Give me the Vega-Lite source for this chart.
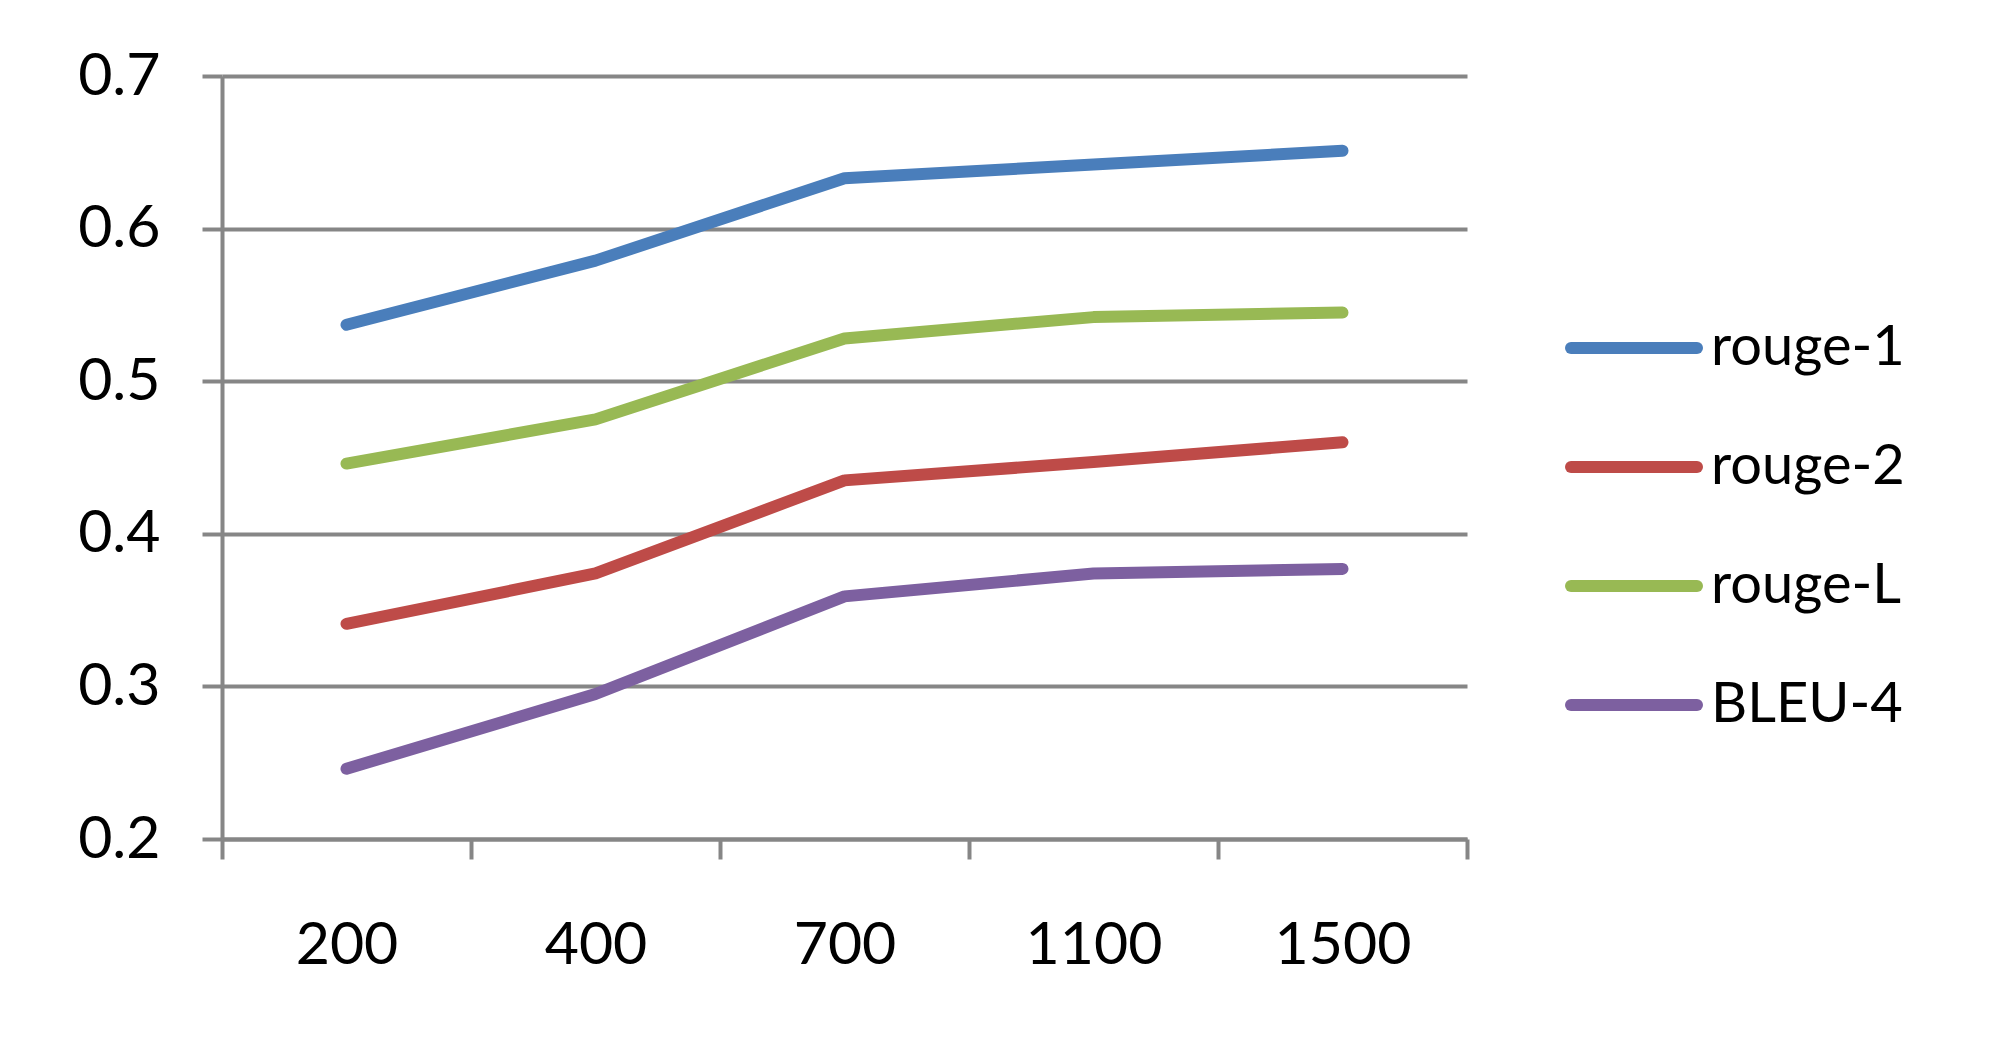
{
  "$schema": "https://vega.github.io/schema/vega-lite/v6.json",
  "width": 1245,
  "height": 763,
  "autosize": "none",
  "padding": {"left": 222, "top": 76, "right": 532, "bottom": 223},
  "background": "white",
  "data": {"values": [
    {"n": 200, "metric": "rouge-1", "score": 0.537},
    {"n": 400, "metric": "rouge-1", "score": 0.579},
    {"n": 700, "metric": "rouge-1", "score": 0.633},
    {"n": 1100, "metric": "rouge-1", "score": 0.642},
    {"n": 1500, "metric": "rouge-1", "score": 0.651},
    {"n": 200, "metric": "rouge-2", "score": 0.341},
    {"n": 400, "metric": "rouge-2", "score": 0.374},
    {"n": 700, "metric": "rouge-2", "score": 0.435},
    {"n": 1100, "metric": "rouge-2", "score": 0.447},
    {"n": 1500, "metric": "rouge-2", "score": 0.460},
    {"n": 200, "metric": "rouge-L", "score": 0.446},
    {"n": 400, "metric": "rouge-L", "score": 0.475},
    {"n": 700, "metric": "rouge-L", "score": 0.528},
    {"n": 1100, "metric": "rouge-L", "score": 0.542},
    {"n": 1500, "metric": "rouge-L", "score": 0.545},
    {"n": 200, "metric": "BLEU-4", "score": 0.246},
    {"n": 400, "metric": "BLEU-4", "score": 0.295},
    {"n": 700, "metric": "BLEU-4", "score": 0.359},
    {"n": 1100, "metric": "BLEU-4", "score": 0.374},
    {"n": 1500, "metric": "BLEU-4", "score": 0.377}
  ]},
  "mark": {"type": "line", "strokeWidth": 12, "strokeCap": "round", "strokeJoin": "round"},
  "encoding": {
    "x": {
      "field": "n", "type": "ordinal", "bandPosition": 0.5,
      "scale": {"type": "band", "paddingInner": 0, "paddingOuter": 0},
      "axis": {
        "title": null, "tickBand": "extent", "labelAngle": 0,
        "domainColor": "#868686", "domainWidth": 4,
        "tickColor": "#868686", "tickWidth": 4, "tickSize": 20,
        "labelFont": "Lato", "labelFontSize": 59, "labelColor": "black",
        "labelBaseline": "alphabetic", "labelPadding": 104, "grid": false
      }
    },
    "y": {
      "field": "score", "type": "quantitative",
      "scale": {"domain": [0.2, 0.7], "nice": false, "zero": false},
      "axis": {
        "title": null, "values": [0.2, 0.3, 0.4, 0.5, 0.6, 0.7], "format": ".1f",
        "domainColor": "#868686", "domainWidth": 4,
        "tickColor": "#868686", "tickWidth": 4, "tickSize": 20,
        "grid": true, "gridColor": "#868686", "gridWidth": 4, "gridOpacity": 1,
        "labelFont": "Lato", "labelFontSize": 59, "labelColor": "black",
        "labelPadding": 42, "labelBaseline": "middle"
      }
    },
    "color": {
      "field": "metric", "type": "nominal",
      "scale": {"domain": ["rouge-1", "rouge-2", "rouge-L", "BLEU-4"], "range": ["#4A7EBB", "#BE4B48", "#98B954", "#7D60A0"]},
      "legend": {
        "title": null, "orient": "none", "legendX": 1343, "legendY": 203,
        "symbolType": "stroke", "symbolSize": 15876, "symbolStrokeWidth": 12,
        "labelFont": "Lato", "labelFontSize": 56, "labelColor": "black", "labelLimit": 500,
        "labelOffset": 8, "rowPadding": 22, "padding": 0,
        "encode": {"symbols": {"update": {"strokeCap": {"value": "round"}}}}
      }
    }
  },
  "config": {"view": {"stroke": null}}
}
